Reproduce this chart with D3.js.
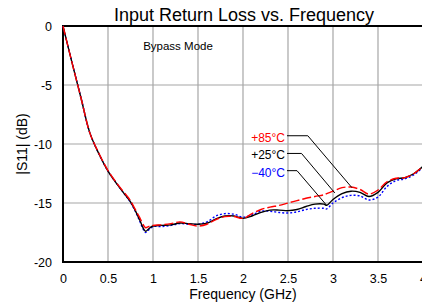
<!DOCTYPE html>
<html>
<head>
<meta charset="utf-8">
<script src="https://cdn.jsdelivr.net/npm/d3@7"></script>
<style>
body { margin: 0; background: white; }
svg { display: block; font-family: "Liberation Sans", Arial, sans-serif; }
</style>
</head>
<body>
<svg width="422" height="305"></svg>
<script>

// donnees (GHz, dB)
let freq = [0, 0.1, 0.2, 0.3, 0.4, 0.5, 0.6, 0.7, 0.75, 0.8, 0.85, 0.9, 0.92, 0.95, 1.0,
    1.1, 1.2, 1.3, 1.4, 1.5, 1.6, 1.7, 1.8, 1.9, 2.0, 2.1, 2.2, 2.3, 2.4, 2.5, 2.6, 2.7,
    2.8, 2.9, 2.93, 3.0, 3.1, 3.2, 3.3, 3.4, 3.5, 3.6, 3.7, 3.8, 3.9, 4.0]

let s11_p85 = [0, -3.1, -6.1, -9.1, -10.8, -12.25, -13.35, -14.3, -14.8, -15.5, -16.2, -16.95, -17.1, -17.0, -16.9,
    -16.85, -16.75, -16.6, -16.8, -16.95, -16.8, -16.4, -16.15, -16.15, -16.3, -15.9, -15.55, -15.35, -15.2, -15.0, -14.8, -14.6,
    -14.45, -14.3, -14.2, -14.0, -13.7, -13.65, -13.85, -14.25, -13.9, -13.2, -12.9, -12.85, -12.5, -11.9]

let s11_p25 = [0, -3.1, -6.1, -9.1, -10.85, -12.3, -13.4, -14.4, -14.9, -15.6, -16.4, -17.25, -17.4, -17.2, -16.95,
    -16.9, -16.85, -16.7, -16.75, -16.8, -16.7, -16.35, -16.1, -16.1, -16.3, -16.1, -15.8, -15.6, -15.6, -15.65, -15.55, -15.3,
    -15.1, -15.1, -15.2, -14.7, -14.2, -14.0, -14.1, -14.45, -14.1, -13.3, -12.95, -12.85, -12.5, -11.9]

let s11_m40 = [0, -3.1, -6.1, -9.1, -10.85, -12.3, -13.4, -14.4, -14.95, -15.65, -16.5, -17.35, -17.5, -17.3, -17.0,
    -17.0, -16.9, -16.75, -16.8, -16.8, -16.6, -16.1, -15.9, -15.95, -16.2, -16.0, -15.7, -15.7, -15.8, -15.85, -15.75, -15.55,
    -15.45, -15.45, -15.5, -15.0, -14.55, -14.35, -14.4, -14.75, -14.5, -13.6, -13.1, -12.95, -12.6, -11.95]

let xTicks = [0, 0.5, 1, 1.5, 2, 2.5, 3, 3.5, 4]
let xTickLabels = ["0", "0.5", "1", "1.5", "2", "2.5", "3", "3.5", "4"]
let yTicks = [0, -5, -10, -15, -20]
let yTickLabels = ["0", "-5", "-10", "-15", "-20"]

let legendNames = ["+85°C", "+25°C", "\u221240°C"]
let legendColors = ["#ff0000", "#000000", "#0000ff"]
// fleches : position du texte, coude, point sur la courbe (GHz, dB)
let legendLabelY = [-9.8, -11.3, -12.8]
let legendBend = [[2.72, -9.3], [2.65, -10.8], [2.6, -12.26]]
let legendTip = [[3.21, -13.7], [3.02, -14.15], [2.93, -15.2]]

let svg = d3.select("svg")

let x = d3.scaleLinear().domain([0, 4]).range([63, 423])
let y = d3.scaleLinear().domain([-20, 0]).range([262, 26])

// grille
svg.append("g")
    .selectAll("line")
    .data(xTicks.slice(1))
    .enter()
    .append("line")
    .attr("x1", d => x(d))
    .attr("x2", d => x(d))
    .attr("y1", y(0))
    .attr("y2", y(-20))
    .attr("stroke", "#a6a6a6")
    .attr("stroke-width", 1.2)

svg.append("g")
    .selectAll("line")
    .data(yTicks.slice(1, -1))
    .enter()
    .append("line")
    .attr("x1", x(0))
    .attr("x2", x(4))
    .attr("y1", d => y(d))
    .attr("y2", d => y(d))
    .attr("stroke", "#a6a6a6")
    .attr("stroke-width", 1.2)

// axes
let axeX = svg.append("g")
    .attr("transform", `translate(0,${y(-20)})`)
    .call(d3.axisBottom(x).tickValues(xTicks).tickFormat((d, i) => xTickLabels[i]).tickSize(0).tickPadding(12))
axeX.select(".domain").remove()
axeX.selectAll("text").attr("font-size", 12.5).attr("font-family", null).attr("fill", "#000")

let axeY = svg.append("g")
    .attr("transform", `translate(${x(0) - 11},0)`)
    .call(d3.axisLeft(y).tickValues(yTicks).tickFormat((d, i) => yTickLabels[i]).tickSize(0).tickPadding(0))
axeY.select(".domain").remove()
axeY.selectAll("text").attr("font-size", 12.5).attr("font-family", null).attr("fill", "#000")

svg.append("line")
    .attr("x1", x(0)).attr("x2", x(4)).attr("y1", y(0)).attr("y2", y(0))
    .attr("stroke", "black").attr("stroke-width", 2)
svg.append("line")
    .attr("x1", x(0)).attr("x2", x(4)).attr("y1", y(-20)).attr("y2", y(-20))
    .attr("stroke", "black").attr("stroke-width", 2)
svg.append("line")
    .attr("x1", x(0)).attr("x2", x(0)).attr("y1", y(0) - 1).attr("y2", y(-20) + 1)
    .attr("stroke", "black").attr("stroke-width", 2)

// courbes
let courbe = serie => d3.line()
    .x((d, i) => x(freq[i]))
    .y(d => y(d))
    .curve(d3.curveCatmullRom)(serie)

svg.append("path")
    .attr("d", courbe(s11_m40))
    .attr("fill", "none")
    .attr("stroke", "#0000ff")
    .attr("stroke-width", 1.4)
    .attr("stroke-dasharray", "2,2")

svg.append("path")
    .attr("d", courbe(s11_p25))
    .attr("fill", "none")
    .attr("stroke", "black")
    .attr("stroke-width", 1.4)

svg.append("path")
    .attr("d", courbe(s11_p85))
    .attr("fill", "none")
    .attr("stroke", "#ff0000")
    .attr("stroke-width", 1.4)
    .attr("stroke-dasharray", "9,3")

// legende
for (let i = 0; i < legendNames.length; i++) {
    svg.append("text")
        .attr("x", 285)
        .attr("y", y(legendLabelY[i]))
        .attr("text-anchor", "end")
        .attr("font-size", 12)
        .attr("fill", legendColors[i])
        .text(legendNames[i])
    let pts = [[287, y(legendBend[i][1])],
        [x(legendBend[i][0]), y(legendBend[i][1])],
        [x(legendTip[i][0]), y(legendTip[i][1])]]
    svg.append("path")
        .attr("d", d3.line()(pts))
        .attr("fill", "none")
        .attr("stroke", "black")
        .attr("stroke-width", 1)
}

// textes
svg.append("text")
    .attr("x", 244)
    .attr("y", 20.5)
    .attr("text-anchor", "middle")
    .attr("font-size", 18)
    .text("Input Return Loss vs. Frequency")

svg.append("text")
    .attr("x", 178)
    .attr("y", 49.5)
    .attr("text-anchor", "middle")
    .attr("font-size", 11.5)
    .text("Bypass Mode")

svg.append("text")
    .attr("x", 243)
    .attr("y", 299)
    .attr("text-anchor", "middle")
    .attr("font-size", 14)
    .text("Frequency (GHz)")

svg.append("text")
    .attr("transform", `translate(27,${y(-10)}) rotate(-90)`)
    .attr("text-anchor", "middle")
    .attr("font-size", 14)
    .text("|S11| (dB)")

</script>
</body>
</html>
